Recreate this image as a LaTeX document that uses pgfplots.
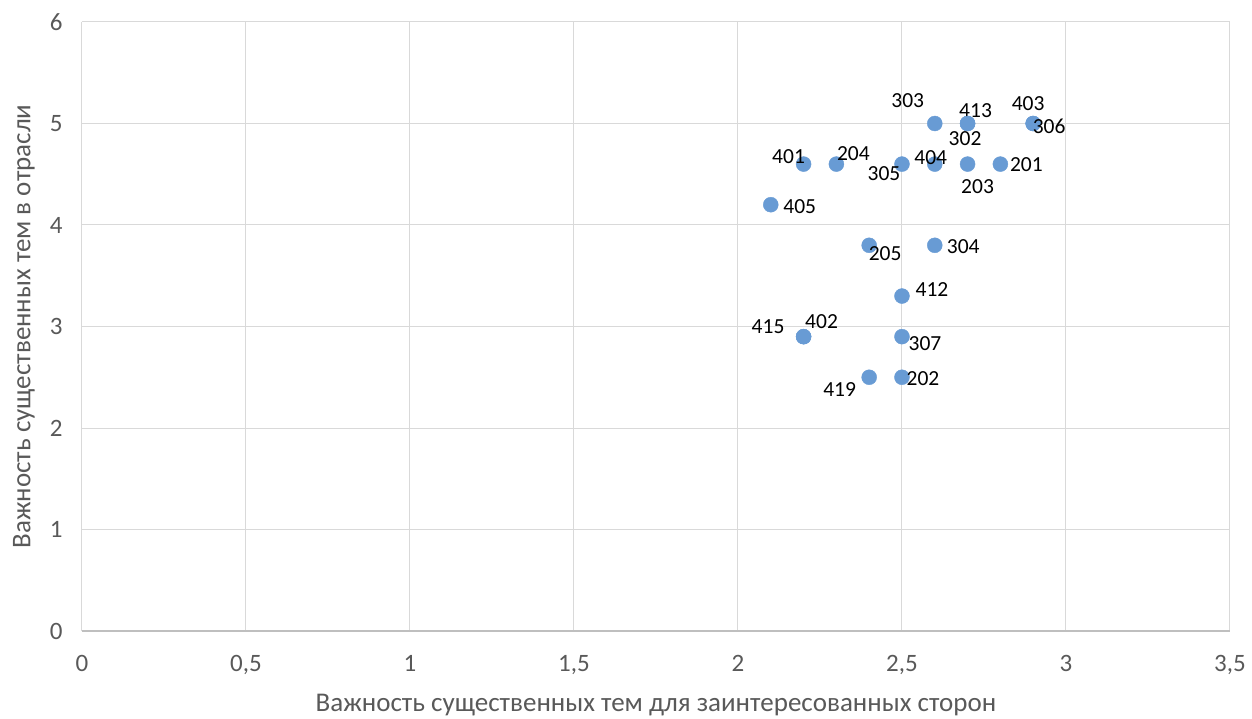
\documentclass[border=0pt]{standalone}
\usepackage{pgfplots}
\usepackage{pgfplotstable}
\pgfplotsset{compat=1.18}
\usepackage{fontspec}
\setmainfont{Carlito}
\definecolor{pt}{RGB}{104,155,212}
\definecolor{gridc}{RGB}{217,217,217}
\definecolor{axc}{RGB}{191,191,191}
\definecolor{txt}{RGB}{89,89,89}
\pgfplotstableread{
x y lab dx dy
2.6 5.0 303 -27 23
2.7 5.0 413 8 12.5
2.9 5.0 403 -5 20
2.9 5.0 306 16 -3
2.7 5.0 302 -2.5 -15.5
2.2 4.6 401 -15 8
2.3 4.6 204 17 11
2.5 4.6 305 -18 -9
2.6 4.6 404 -4 7
2.7 4.6 203 10 -22
2.8 4.6 201 26 0
2.1 4.2 405 29 -2
2.4 3.8 205 16 -8
2.6 3.8 304 28.5 -1.5
2.5 3.3 412 30 7
2.2 2.9 415 -35.5 10
2.2 2.9 402 18 15
2.5 2.9 307 23 -7
2.4 2.5 419 -29.5 -12
2.5 2.5 202 21 -1
}\pts
\begin{document}
\begin{tikzpicture}
\begin{axis}[
  scale only axis,
  width=1148pt, height=609pt,
  xmin=0, xmax=3.5, ymin=0, ymax=6,
  xtick={0,0.5,...,3.5}, ytick={0,1,...,6},
  grid=major,
  major grid style={draw=gridc, line width=1pt},
  axis x line*=bottom, axis y line*=left,
  x axis line style={draw=axc, line width=1.2pt, -},
  y axis line style={draw=gridc, line width=1pt, -},
  major tick length=0pt,
  /pgf/number format/use comma,
  /pgf/number format/assume math mode=true,
  ticklabel style={font=\fontsize{25}{29}\selectfont, text=txt},
  xticklabel style={yshift=-21pt},
  yticklabel style={xshift=-16pt},
  xlabel={Важность существенных тем для заинтересованных сторон},
  ylabel={Важность существенных тем в отрасли},
  label style={font=\fontsize{27}{31}\selectfont, text=txt},
  xlabel style={yshift=-12pt},
  ylabel style={yshift=8pt},
  clip=false,
]
\addplot[only marks, mark=*, mark size=7.5pt, mark options={draw=pt, fill=pt},
  point meta=explicit symbolic,
  visualization depends on={\thisrow{dx} \as \dx},
  visualization depends on={\thisrow{dy} \as \dy},
  nodes near coords,
  nodes near coords style={anchor=center, xshift=\dx pt, yshift=\dy pt,
    font=\fontsize{21.5}{25}\selectfont, text=black, inner sep=0pt},
] table[x=x, y=y, meta=lab] {\pts};
\end{axis}
\pgfresetboundingbox
\useasboundingbox (-82pt,-87pt) rectangle (1170pt,631pt);
\end{tikzpicture}
\end{document}
